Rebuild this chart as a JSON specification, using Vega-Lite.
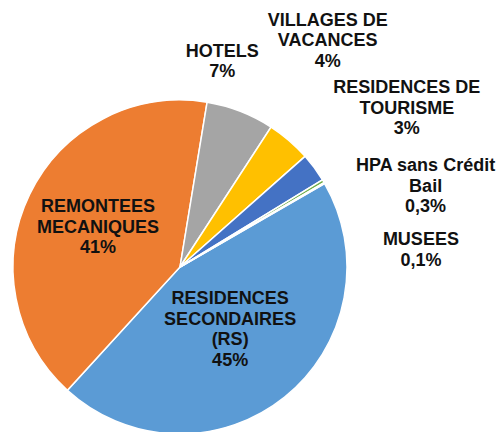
{
  "$schema": "https://vega.github.io/schema/vega-lite/v6.json",
  "autosize": {"type": "none"},
  "width": 360,
  "height": 330,
  "padding": {"left": 0, "top": 102, "right": 140, "bottom": 0},
  "background": "white",
  "view": {"stroke": null},
  "config": {"text": {"font": "Liberation Sans", "fontSize": 18, "fontWeight": "bold", "fill": "#111111", "align": "center", "baseline": "middle", "lineBreak": "\n", "lineHeight": 20.5}},
  "data": {"values": [
    {"cat": "RESIDENCES SECONDAIRES (RS)", "value": 45.2, "ord": 1, "label": "RESIDENCES\nSECONDAIRES\n(RS)\n45%"},
    {"cat": "REMONTEES MECANIQUES", "value": 40.9, "ord": 2, "label": "REMONTEES\nMECANIQUES\n41%"},
    {"cat": "HOTELS", "value": 6.6, "ord": 3, "label": "HOTELS\n7%"},
    {"cat": "VILLAGES DE VACANCES", "value": 4.3, "ord": 4, "label": "VILLAGES DE\nVACANCES\n4%"},
    {"cat": "RESIDENCES DE TOURISME", "value": 2.8, "ord": 5, "label": "RESIDENCES DE\nTOURISME\n3%"},
    {"cat": "HPA sans Crédit Bail", "value": 0.3, "ord": 6, "label": "HPA sans Crédit\nBail\n0,3%"},
    {"cat": "MUSEES", "value": 0.1, "ord": 7, "label": "MUSEES\n0,1%"}
  ]},
  "encoding": {
    "theta": {"field": "value", "type": "quantitative", "stack": true, "scale": {"range": [1.0472, 7.3304]}},
    "order": {"field": "ord", "type": "quantitative"}
  },
  "layer": [
    {
      "mark": {"type": "arc", "outerRadius": 167, "stroke": "white", "strokeWidth": 1.5},
      "encoding": {
        "color": {"field": "cat", "type": "nominal", "legend": null,
          "scale": {"domain": ["RESIDENCES SECONDAIRES (RS)", "REMONTEES MECANIQUES", "HOTELS", "VILLAGES DE VACANCES", "RESIDENCES DE TOURISME", "HPA sans Crédit Bail", "MUSEES"],
                    "range": ["#5B9BD5", "#ED7D31", "#A5A5A5", "#FFC000", "#4472C4", "#70AD47", "#264478"]}}
      }
    },
    {"mark": {"type": "text", "radius": 80, "dy": -30},
     "encoding": {"text": {"condition": {"test": "datum.ord === 1", "field": "label"}, "value": ""}}},
    {"mark": {"type": "text", "radius": 91, "dy": -20},
     "encoding": {"text": {"condition": {"test": "datum.ord === 2", "field": "label"}, "value": ""}}},
    {"mark": {"type": "text", "radius": 200, "dx": -30, "dy": -29},
     "encoding": {"text": {"condition": {"test": "datum.ord === 3", "field": "label"}, "value": ""}}},
    {"mark": {"type": "text", "radius": 200, "dx": 17, "dy": -95},
     "encoding": {"text": {"condition": {"test": "datum.ord === 4", "field": "label"}, "value": ""}}},
    {"mark": {"type": "text", "radius": 200, "dx": 66, "dy": -60},
     "encoding": {"text": {"condition": {"test": "datum.ord === 5", "field": "label"}, "value": ""}}},
    {"mark": {"type": "text", "radius": 200, "dx": 74, "dy": 2},
     "encoding": {"text": {"condition": {"test": "datum.ord === 6", "field": "label"}, "value": ""}}},
    {"mark": {"type": "text", "radius": 200, "dx": 68, "dy": 74},
     "encoding": {"text": {"condition": {"test": "datum.ord === 7", "field": "label"}, "value": ""}}}
  ]
}
